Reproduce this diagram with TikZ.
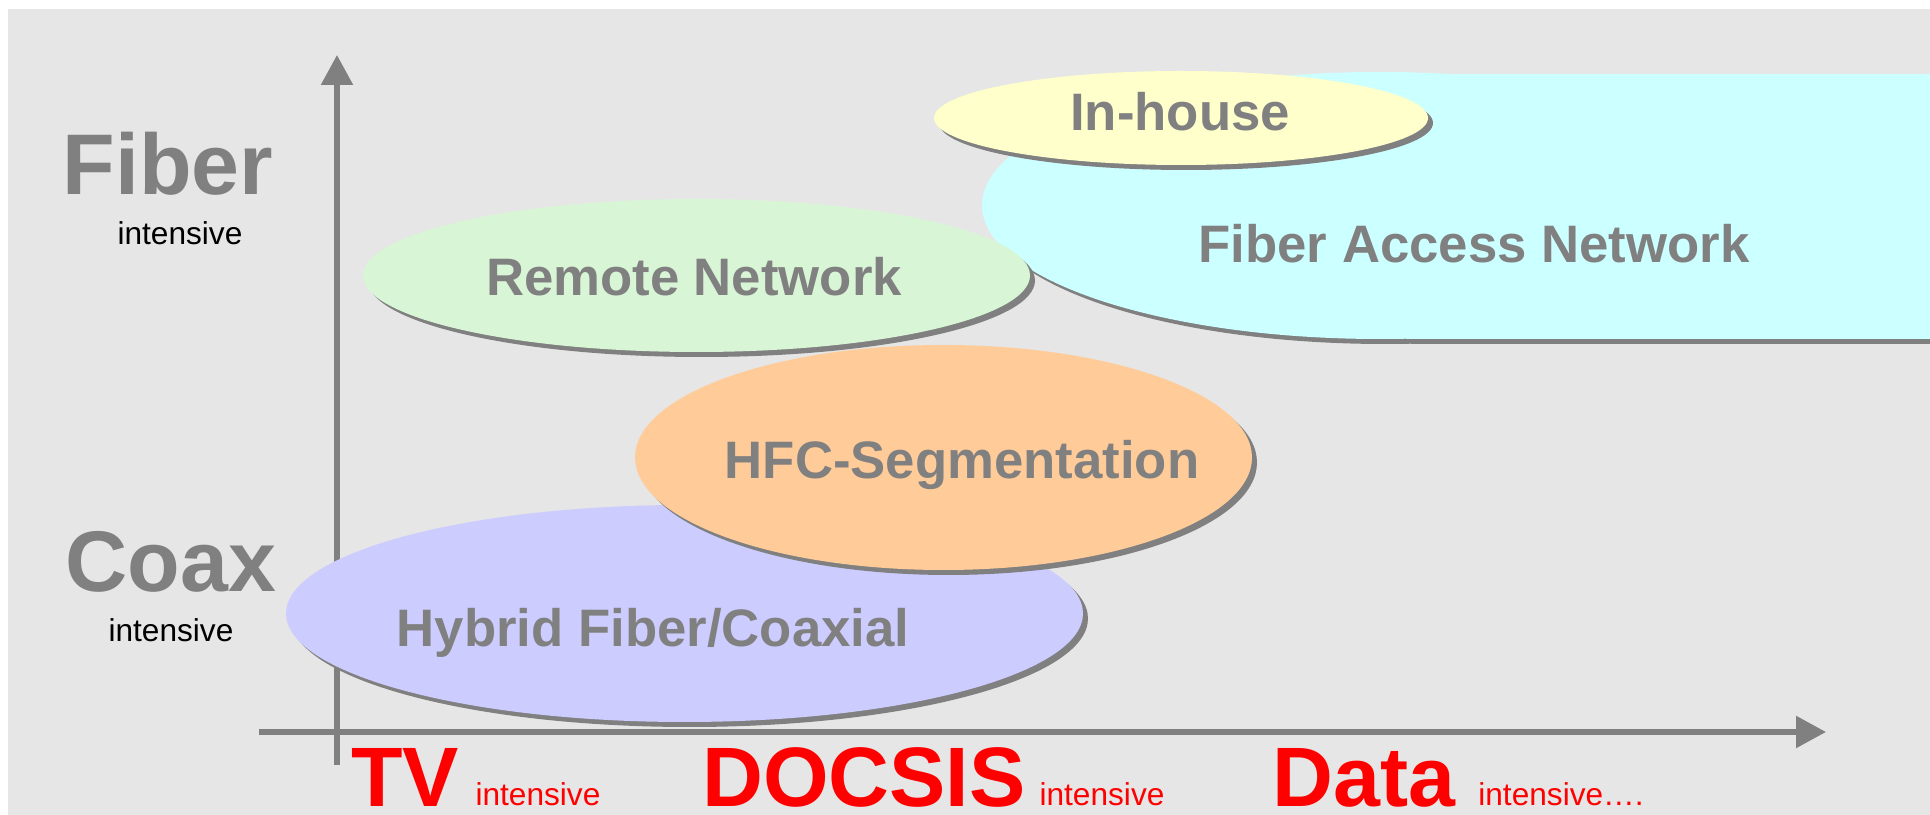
\documentclass[tikz,border=0pt]{standalone}
\usepackage{fontspec}
\setmainfont{Liberation Sans}
\usetikzlibrary{arrows.meta,shapes.geometric,shadows}

\definecolor{bggray}{HTML}{E6E6E6}
\definecolor{axisgray}{HTML}{808080}
\definecolor{hfcblue}{HTML}{CCCCFF}
\definecolor{segorange}{HTML}{FFCC99}
\definecolor{remotegreen}{HTML}{D8F6D6}
\definecolor{accesscyan}{HTML}{CCFFFF}
\definecolor{houseyellow}{HTML}{FFFFCC}

\begin{document}
\begin{tikzpicture}[x=1cm, y=-1cm, line join=round,
    axis/.style={line width=0.055cm, draw=axisgray, -{Triangle[length=0.30cm,width=0.31cm]}},
    zone/.style={ellipse, inner sep=0pt, fill=#1,
        drop shadow={shadow xshift=0.05cm, shadow yshift=-0.05cm, fill=axisgray, opacity=1}},
    zonetext/.style={anchor=base, inner sep=0pt, text=axisgray, font=\fontsize{15}{18}\selectfont\bfseries},
    bigtext/.style={anchor=base, inner sep=0pt, text=axisgray, font=\fontsize{24.5}{29}\selectfont\bfseries},
    redtext/.style={anchor=base, inner sep=0pt, text=red, font=\fontsize{24}{29}\selectfont\bfseries},
    smalltext/.style={anchor=base, inner sep=0pt, font=\fontsize{9}{11}\selectfont}]
    % page and gray background
    \useasboundingbox (0,0) rectangle (19.30,8.15);
    \fill[bggray] (0.08,0.09) rectangle (19.30,8.15);

    % axes
    \coordinate (yfoot) at (3.37,7.65);
    \coordinate (ytip) at (3.37,0.55);
    \coordinate (xfoot) at (2.59,7.32);
    \coordinate (xtip) at (18.26,7.32);
    \draw[axis] (yfoot) -- (ytip);
    \draw[axis] (xfoot) -- (xtip);

    % fiber access network: ellipse merged with a band running off the right edge
    \begin{scope}[shift={(0.05,0.05)}]
        \fill[axisgray] (13.80,2.055) ellipse [x radius=3.98, y radius=1.335];
        \fill[axisgray] (14.06,0.74) rectangle (19.40,3.39);
    \end{scope}
    \fill[accesscyan] (13.80,2.055) ellipse [x radius=3.98, y radius=1.335];
    \fill[accesscyan] (14.06,0.74) rectangle (19.40,3.39);

    % the other zones
    \node[zone=remotegreen, minimum width=6.67cm, minimum height=1.53cm] (remotez) at (6.965,2.755) {};
    \node[zone=houseyellow, minimum width=4.94cm, minimum height=0.94cm] (housez) at (11.81,1.18) {};
    \node[zone=hfcblue, minimum width=7.97cm, minimum height=2.17cm] (hybridz) at (6.845,6.135) {};
    \node[zone=segorange, minimum width=6.17cm, minimum height=2.25cm] (segz) at (9.435,4.575) {};

    % zone labels
    \node[zonetext] (houset) at (11.80,1.31) {In-house};
    \node[zonetext] (accesst) at (14.74,2.63) {Fiber Access Network};
    \node[zonetext] (remotet) at (6.94,2.96) {Remote Network};
    \node[zonetext] (segt) at (9.62,4.79) {HFC-Segmentation};
    \node[zonetext] (hybridt) at (6.53,6.47) {Hybrid Fiber/Coaxial};

    % y axis labels
    \node[bigtext] (fiberl) at (1.68,1.95) {Fiber};
    \node[smalltext] (fiberi) at (1.80,2.45) {intensive};
    \node[bigtext] (coaxl) at (1.71,5.92) {Coax};
    \node[smalltext] (coaxi) at (1.71,6.42) {intensive};

    % x axis labels
    \node[redtext] (tvl) at (4.05,8.07) {TV};
    \node[smalltext, text=red] (tvi) at (5.38,8.06) {intensive};
    \node[redtext] (docsisl) at (8.64,8.07) {DOCSIS};
    \node[smalltext, text=red] (docsisi) at (11.02,8.06) {intensive};
    \node[redtext] (datal) at (13.64,8.07) {Data};
    \node[smalltext, text=red] (datai) at (15.61,8.06) {intensive….};
\end{tikzpicture}
\end{document}
